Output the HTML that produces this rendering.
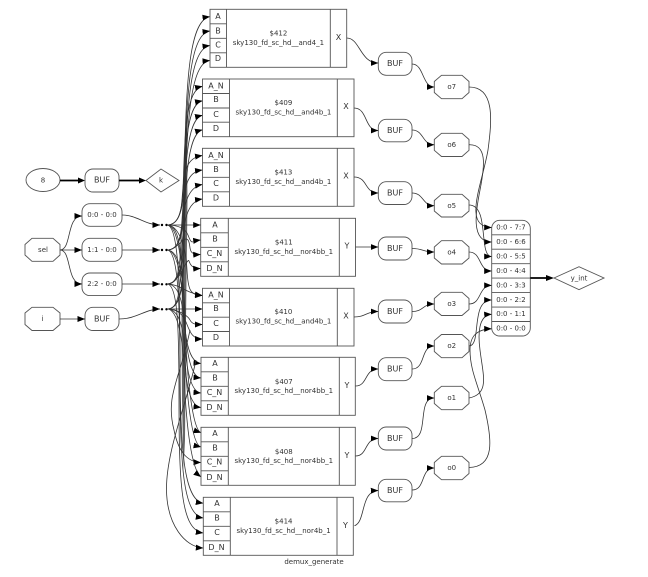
<!DOCTYPE html>
<html><head><meta charset="utf-8"><style>
html,body{margin:0;padding:0;background:#fff}
svg{display:block}
text{font-family:"DejaVu Sans","Liberation Sans",sans-serif;fill:#333;text-anchor:middle}
.n{fill:none;stroke:#333;stroke-width:.8}
.b{fill:none;stroke:#555;stroke-width:.9}
.p{font-size:8px}.c{font-size:7px}
</style></head><body>
<svg width="648" height="577" viewBox="0 0 648 577" xmlns="http://www.w3.org/2000/svg">
<defs>
<marker id="a" markerUnits="userSpaceOnUse" markerWidth="9" markerHeight="7" refX="7.500" refY="3.500" orient="auto"><path d="M0 .5L7.500 3.500L0 6.500Z" fill="#000"/></marker>
</defs>
<rect width="648" height="577" fill="#fff"/>

<!-- left nodes -->
<ellipse class="b" cx="43" cy="180" rx="17" ry="11.5"/><text class="c" x="43" y="182.500">8</text>
<rect class="b" x="85" y="169" width="34" height="23" rx="8"/><text class="p" x="102" y="182.500">BUF</text>
<polygon class="b" points="146,180.500 161,169 179,180.500 161,192"/><text class="c" x="161" y="182.500">k</text>
<path d="M60 180.500H80M119 180.500H141" stroke="#000" stroke-width="1.800" fill="none"/>
<path d="M78 177.500L85 180.500L78 183.500ZM139 177.500L146 180.500L139 183.500Z"/>
<rect class="b" x="82" y="203.700" width="40" height="22.600" rx="8"/><text class="c" x="102" y="217">0:0 - 0:0</text>
<rect class="b" x="82" y="238.300" width="40" height="23" rx="8"/><text class="c" x="102" y="252">1:1 - 0:0</text>
<rect class="b" x="82" y="273" width="40" height="22.600" rx="8"/><text class="c" x="102" y="286">2:2 - 0:0</text>
<polygon class="b" points="25,244.500 32,238.300 53,238.300 60,244.500 60,255 53,261.300 32,261.300 25,255"/><text class="c" x="43" y="252">sel</text>
<polygon class="b" points="25,313 32,307.300 53,307.300 60,313 60,324.500 53,330.500 32,330.500 25,324.500"/><text class="c" x="42.500" y="321">i</text>
<rect class="b" x="85" y="307.300" width="34" height="23.200" rx="8"/><text class="p" x="102" y="321.500">BUF</text>
<g class="n">
<path marker-end="url(#a)" d="M60 250C72 250 66 216 82 216"/>
<path marker-end="url(#a)" d="M60 250H82"/>
<path marker-end="url(#a)" d="M60 250C72 250 66 284 82 284"/>
<path marker-end="url(#a)" d="M60 319H85"/>
<path marker-end="url(#a)" d="M122 215C137 215 145 225 160 225"/>
<path marker-end="url(#a)" d="M122 250H160"/>
<path marker-end="url(#a)" d="M122 284H160"/>
<path marker-end="url(#a)" d="M119 319C137 319 145 309 160 309"/>
</g>
<g fill="#000"><circle cx="162" cy="225" r="1.200"/><circle cx="166.500" cy="225" r="1.200"/><circle cx="162" cy="250" r="1.200"/><circle cx="166.500" cy="250" r="1.200"/><circle cx="162" cy="284.300" r="1.200"/><circle cx="166.500" cy="284.300" r="1.200"/><circle cx="162" cy="309.300" r="1.200"/><circle cx="166.500" cy="309.300" r="1.200"/></g>

<!-- trunk -->
<path d="M186.500 110L187.500 200L186 320L185 440L183.500 470L182 400L181.500 320L183 200Z" fill="#333" opacity=".75"/>

<!-- input fan -->
<g class="n">
<path marker-end="url(#a)" d="M167 225C178 225 183 213 184 185C186 96 187 20 210 16.600"/>
<path marker-end="url(#a)" d="M167 250C178 250 183 238 184 210C186 110 187 34 210 31"/>
<path marker-end="url(#a)" d="M167 284C178 284 183 270 184 240C186 130 186 49 210 45.500"/>
<path marker-end="url(#a)" d="M167 309C178 309 183 295 184 260C186 150 186 63 210 60.500"/>
<path marker-end="url(#a)" d="M167 225C178 225 182 213 183 190C185 130 186 90 202.500 86.300"/>
<path marker-end="url(#a)" d="M167 250C178 250 182 238 183 215C185 150 186 104 202.500 100.800"/>
<path marker-end="url(#a)" d="M167 284C178 284 182 270 183 240C185 170 186 119 202.500 115.300"/>
<path marker-end="url(#a)" d="M167 309C178 309 182 295 183 265C185 190 186 134 202.500 129.800"/>
<path marker-end="url(#a)" d="M167 225C178 225 181 213 182 200C184 170 186 158 202.500 155.500"/>
<path marker-end="url(#a)" d="M167 250C178 250 181 238 182 220C184 185 187 172 202.500 170"/>
<path marker-end="url(#a)" d="M167 284C178 284 180 270 181 240C183 205 187 187 202.500 184.500"/>
<path marker-end="url(#a)" d="M167 309C178 309 180 295 181 260C183 220 187 201 202.500 199"/>
<path marker-end="url(#a)" d="M167 225H200.700"/>
<path marker-end="url(#a)" d="M167 225C178 225 185 228 188 235C192 246 192 241 200.700 240"/>
<path marker-end="url(#a)" d="M167 250C178 250 184 235 188 240C192 246 186 255 200.700 254.500"/>
<path marker-end="url(#a)" d="M167 284C178 284 184 265 187 262C191 256 186 269 200.700 268.500"/>
<path marker-end="url(#a)" d="M167 225C178 225 186 245 187 270C188 290 190 295 202.500 295.500"/>
<path marker-end="url(#a)" d="M167 284C180 284 185 293 202.500 295.500"/>
<path marker-end="url(#a)" d="M167 309H202.500"/>
<path marker-end="url(#a)" d="M167 309C178 309 188 316 190 320C192 324 195 324.500 202.500 324.500"/>
<path marker-end="url(#a)" d="M167 309C178 309 183 315 186 322C190 332 192 339 202.500 339"/>
<path marker-end="url(#a)" d="M167 225C178 225 181 245 182 280C184 330 186 362 201 363.500"/>
<path marker-end="url(#a)" d="M167 250C178 250 182 270 184 300C185 350 190 377 201 378"/>
<path marker-end="url(#a)" d="M167 284C178 284 183 300 184 325C185 365 190 392 201 393"/>
<path marker-end="url(#a)" d="M167 309C178 309 183 325 184 345C185 385 190 406 201 407.500"/>
<path marker-end="url(#a)" d="M167 225C178 225 182 260 185 310C186 380 193 430 201 432.700"/>
<path marker-end="url(#a)" d="M167 250C178 250 183 280 184 330C186 400 192 445 201 447"/>
<path marker-end="url(#a)" d="M190 330C180 380 165 395 174 430C178 450 186 462 201 462.500"/>
<path marker-end="url(#a)" d="M167 309C178 309 183 340 184 370C186 430 192 470 201 477"/>
<path marker-end="url(#a)" d="M167 225C178 225 180 280 180 360C180 450 184 500 203.300 503.300"/>
<path marker-end="url(#a)" d="M167 250C178 250 180 300 180 380C180 470 184 515 203.300 518"/>
<path marker-end="url(#a)" d="M167 284C178 284 179 330 179 400C179 490 182 530 203.300 533"/>
<path marker-end="url(#a)" d="M196 360C188 400 166 450 166.500 490C167 525 185 547 203.300 548"/>
</g>

<!-- cells -->
<g fill="none" stroke="#555" stroke-width=".9">
<rect x="210" y="9.300" width="136.700" height="58"/><path d="M226.500 9.300V67.300M330.300 9.300V67.300M210 23.800H226.500M210 38.300H226.500M210 52.800H226.500"/>
<rect x="202.500" y="79" width="151.500" height="57.700"/><path d="M229.500 79V136.700M337.300 79V136.700M202.500 93.500H229.500M202.500 108H229.500M202.500 122.200H229.500"/>
<rect x="202.500" y="148.300" width="151.500" height="58"/><path d="M229.500 148.300V206.300M337.300 148.300V206.300M202.500 162.800H229.500M202.500 177.300H229.500M202.500 191.800H229.500"/>
<rect x="200.700" y="218.300" width="154.800" height="58"/><path d="M228.300 218.300V276.300M339.300 218.300V276.300M200.700 232.800H228.300M200.700 247.300H228.300M200.700 261.800H228.300"/>
<rect x="202.500" y="288.300" width="151.500" height="57.700"/><path d="M229.500 288.300V346M337.300 288.300V346M202.500 302.800H229.500M202.500 317.200H229.500M202.500 331.500H229.500"/>
<rect x="201" y="357.300" width="154.300" height="58"/><path d="M228.300 357.300V415.300M339.300 357.300V415.300M201 371.800H228.300M201 386.300H228.300M201 400.800H228.300"/>
<rect x="201" y="427.300" width="154.300" height="58"/><path d="M228.300 427.300V485.300M339.300 427.300V485.300M201 441.800H228.300M201 456.300H228.300M201 470.800H228.300"/>
<rect x="203.300" y="497.300" width="150" height="58"/><path d="M230.300 497.300V555.300M337 497.300V555.300M203.300 511.800H230.300M203.300 526.300H230.300M203.300 540.800H230.300"/>
</g>
<g class="p">
<text x="218" y="19">A</text><text x="218" y="33.500">B</text><text x="218" y="47.500">C</text><text x="218" y="61">D</text><text x="338.500" y="40">X</text>
<text x="216" y="88.500">A_N</text><text x="216" y="102">B</text><text x="216" y="117">C</text><text x="216" y="131">D</text><text x="346" y="109">X</text>
<text x="216" y="158">A_N</text><text x="216" y="172">B</text><text x="216" y="186">C</text><text x="216" y="200.500">D</text><text x="346" y="178.500">X</text>
<text x="215" y="227.500">A</text><text x="215" y="241.500">B</text><text x="214.500" y="256">C_N</text><text x="214.500" y="271">D_N</text><text x="347" y="248.500">Y</text>
<text x="216" y="297.500">A_N</text><text x="216" y="311">B</text><text x="216" y="326">C</text><text x="216" y="340">D</text><text x="346" y="318.500">X</text>
<text x="215" y="366">A</text><text x="215" y="380.500">B</text><text x="214.500" y="395">C_N</text><text x="214.500" y="410">D_N</text><text x="347" y="388">Y</text>
<text x="215" y="436">A</text><text x="215" y="450.500">B</text><text x="214.500" y="464.500">C_N</text><text x="214.500" y="480">D_N</text><text x="347" y="458">Y</text>
<text x="217" y="506">A</text><text x="217" y="520.500">B</text><text x="217" y="535">C</text><text x="216.500" y="550">D_N</text><text x="345.500" y="528">Y</text>
</g>
<g class="c">
<text x="278.400" y="35.500">$412</text><text x="278.400" y="45">sky130_fd_sc_hd__and4_1</text>
<text x="283.400" y="105">$409</text><text x="283.400" y="114.500">sky130_fd_sc_hd__and4b_1</text>
<text x="283.400" y="174.500">$413</text><text x="283.400" y="184">sky130_fd_sc_hd__and4b_1</text>
<text x="283.800" y="244.500">$411</text><text x="283.800" y="254">sky130_fd_sc_hd__nor4bb_1</text>
<text x="283.400" y="314">$410</text><text x="283.400" y="323.500">sky130_fd_sc_hd__and4b_1</text>
<text x="283.800" y="384">$407</text><text x="283.800" y="393">sky130_fd_sc_hd__nor4bb_1</text>
<text x="283.800" y="454">$408</text><text x="283.800" y="463">sky130_fd_sc_hd__nor4bb_1</text>
<text x="283.600" y="523.500">$414</text><text x="283.600" y="533">sky130_fd_sc_hd__nor4b_1</text>
<text x="314" y="564">demux_generate</text>
</g>

<!-- right BUFs -->
<g class="b">
<rect x="378.300" y="52.300" width="33.700" height="23" rx="8"/>
<rect x="378.300" y="119.300" width="33.700" height="22.500" rx="8"/>
<rect x="378.300" y="181.700" width="33.700" height="22.800" rx="8"/>
<rect x="378.300" y="237" width="33.700" height="23" rx="8"/>
<rect x="378.300" y="300" width="33.700" height="23" rx="8"/>
<rect x="378.300" y="357.700" width="33.700" height="23" rx="8"/>
<rect x="378.300" y="427" width="33.700" height="23" rx="8"/>
<rect x="378.300" y="479.300" width="33.700" height="22.500" rx="8"/>
</g>
<g class="p">
<text x="395" y="66">BUF</text><text x="395" y="133">BUF</text><text x="395" y="195.500">BUF</text><text x="395" y="251">BUF</text><text x="395" y="314">BUF</text><text x="395" y="371.500">BUF</text><text x="395" y="441">BUF</text><text x="395" y="493">BUF</text>
</g>
<!-- octagons -->
<g class="b">
<polygon points="434.300,81.500 441.500,75.300 462,75.300 469,81.500 469,92.500 462,98.700 441.500,98.700 434.300,92.500"/>
<polygon points="434.300,139.500 441.500,133.300 462,133.300 469,139.500 469,150.300 462,156.500 441.500,156.500 434.300,150.300"/>
<polygon points="434.300,200.500 441.500,194.300 462,194.300 469,200.500 469,211 462,217 441.500,217 434.300,211"/>
<polygon points="434.300,247 441.500,240.700 462,240.700 469,247 469,258 462,264 441.500,264 434.300,258"/>
<polygon points="434.300,298.500 441.500,292.300 462,292.300 469,298.500 469,309.500 462,315.500 441.500,315.500 434.300,309.500"/>
<polygon points="434.300,340.700 441.500,334.500 462,334.500 469,340.700 469,351.500 462,357.700 441.500,357.700 434.300,351.500"/>
<polygon points="434.300,392.500 441.500,386.300 462,386.300 469,392.500 469,403.500 462,409.700 441.500,409.700 434.300,403.500"/>
<polygon points="434.300,462.500 441.500,456.300 462,456.300 469,462.500 469,473.500 462,479.700 441.500,479.700 434.300,473.500"/>
</g>
<g class="c">
<text x="451.700" y="89">o7</text><text x="451.700" y="147">o6</text><text x="451.700" y="208">o5</text><text x="451.700" y="254.500">o4</text><text x="451.700" y="306">o3</text><text x="451.700" y="348">o2</text><text x="451.700" y="400">o1</text><text x="451.700" y="470">o0</text>
</g>

<!-- output connectors -->
<g class="n">
<path marker-end="url(#a)" d="M346.700 38C360 38 360 63 378.300 63"/>
<path marker-end="url(#a)" d="M354 108C368 108 364 130.500 378.300 130.500"/>
<path marker-end="url(#a)" d="M354 177C368 177 364 193 378.300 193"/>
<path marker-end="url(#a)" d="M355.500 247H378.300"/>
<path marker-end="url(#a)" d="M354 317C366 317 366 311.500 378.300 311.500"/>
<path marker-end="url(#a)" d="M355.500 386C368 386 364 369 378.300 369"/>
<path marker-end="url(#a)" d="M355.500 456C368 456 364 438.500 378.300 438.500"/>
<path marker-end="url(#a)" d="M354.500 525.700C366 522 360 491 378.300 490.500"/>
<path marker-end="url(#a)" d="M412 64C424 64 422 87 434.300 87"/>
<path marker-end="url(#a)" d="M412 130C424 130 422 144.800 434.300 144.800"/>
<path marker-end="url(#a)" d="M412 193C424 193 422 205.700 434.300 205.700"/>
<path marker-end="url(#a)" d="M412 248.500C424 248.500 422 252 434.300 252"/>
<path marker-end="url(#a)" d="M412 311.500C424 311.500 422 304 434.300 304"/>
<path marker-end="url(#a)" d="M412 369C426 369 420 346 434.300 346"/>
<path marker-end="url(#a)" d="M412 438.500C430 438.500 416 398 434.300 398"/>
<path marker-end="url(#a)" d="M412 490C426 490 420 468 434.300 468"/>
<path marker-end="url(#a)" d="M469 87C495 87 492 120 488 150C482 185 462 227 491.700 227.500"/>
<path marker-end="url(#a)" d="M469 144.800C487 144 485 165 480 190C476 210 470 242 491.700 242"/>
<path marker-end="url(#a)" d="M469 205C490 205 478 256.500 491.700 256.500"/>
<path marker-end="url(#a)" d="M469 252C482 252 478 271 491.700 271"/>
<path marker-end="url(#a)" d="M469 304C482 304 478 285.400 491.700 285.400"/>
<path marker-end="url(#a)" d="M469 346C482 346 470 300 491.700 300"/>
<path marker-end="url(#a)" d="M469 398C490 394 483 375 480 350C478 335 478 315 491.700 314.300"/>
<path marker-end="url(#a)" d="M469 467.500C495 467 492 440 485 410C478 385 470 370 470 350C470 335 478 329 491.700 328.800"/>
</g>

<!-- output record -->
<rect class="b" x="491.700" y="220.300" width="38.600" height="115.700" rx="8"/>
<path class="b" d="M491.700 234.800H530.300M491.700 249.200H530.300M491.700 263.700H530.300M491.700 278.100H530.300M491.700 292.600H530.300M491.700 307.100H530.300M491.700 321.500H530.300"/>
<g class="c">
<text x="511" y="229.500">0:0 - 7:7</text><text x="511" y="244">0:0 - 6:6</text><text x="511" y="258.500">0:0 - 5:5</text><text x="511" y="273">0:0 - 4:4</text><text x="511" y="287.500">0:0 - 3:3</text><text x="511" y="302">0:0 - 2:2</text><text x="511" y="316">0:0 - 1:1</text><text x="511" y="330.500">0:0 - 0:0</text>
</g>
<path d="M530.300 278H549" stroke="#000" stroke-width="1.800" fill="none"/>
<path d="M546 275L554 278L546 281Z"/>
<polygon class="b" points="554,278 579,266.700 604,278 579,289.600"/>
<text class="c" x="579" y="280.500">y_int</text>
</svg>
</body></html>
